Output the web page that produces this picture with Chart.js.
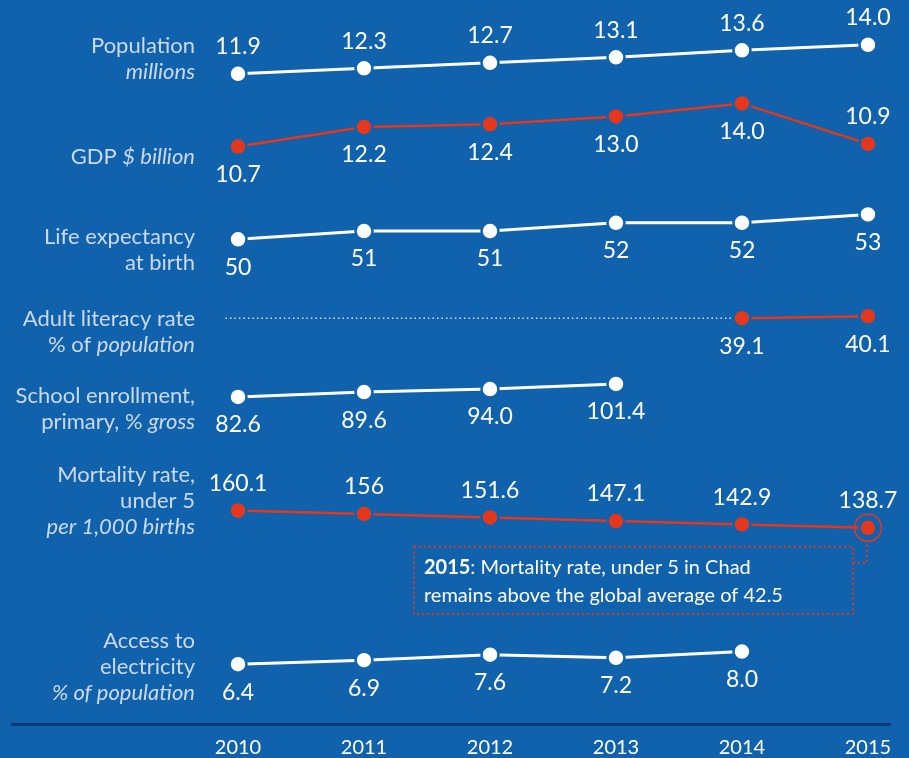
<!DOCTYPE html>
<html>
<head>
<meta charset="utf-8">
<script src="https://cdn.jsdelivr.net/npm/chart.js@4.4.0/dist/chart.umd.min.js"></script>
<style>
  html, body { margin: 0; padding: 0; background: #1062ad; }
  #wrap { width: 909px; height: 758px; position: relative; }
</style>
</head>
<body>
<div id="wrap"><canvas id="myChart" width="909" height="758"></canvas></div>
<script>
// chart values
var years = [2010, 2011, 2012, 2013, 2014, 2015];
var population = [11.9, 12.3, 12.7, 13.1, 13.6, 14.0];
var gdp = [10.7, 12.2, 12.4, 13.0, 14.0, 10.9];
var lifeExpectancy = [50, 51, 51, 52, 52, 53];
var literacy = [null, null, null, null, 39.1, 40.1];
var schoolEnrollment = [82.6, 89.6, 94.0, 101.4, null, null];
var mortality = [160.1, 156, 151.6, 147.1, 142.9, 138.7];
var electricity = [6.4, 6.9, 7.6, 7.2, 8.0, null];

var BG = '#1062ad';
var RED = '#e4371c';
var WHITE = '#ffffff';
var LABEL = '#cbd9eb';
var FONT = 'Lato, "Open Sans", sans-serif';

// one band per indicator, top to bottom
var rows = [
  { data: population, color: WHITE, min: 10.81, max: 16.46, band: 78, fmt: 1,
    where: 'aaaaaa', labelY: 46,
    label: [[['Population', 0]], [['millions', 1]]] },
  { data: gdp, color: RED, min: 8.10, max: 15.12, band: 92, fmt: 1,
    where: 'bbbbba', labelY: 157,
    label: [[['GDP ', 0], ['$ billion', 1]]] },
  { data: lifeExpectancy, color: WHITE, min: 45.3, max: 57.1, band: 98, fmt: 0,
    where: 'bbbbbb', labelY: 237,
    label: [[['Life expectancy', 0]], [['at birth', 0]]] },
  { data: literacy, color: RED, min: 23.1, max: 59.1, band: 72, fmt: 1,
    where: 'bbbbbb', labelY: 319,
    label: [[['Adult literacy rate', 0]], [['% of ', 0], ['population', 1]]] },
  { data: schoolEnrollment, color: WHITE, min: 5.9, max: 150.6, band: 100, fmt: 1,
    where: 'bbbbbb', labelY: 396,
    label: [[['School enrollment,', 0]], [['primary, % ', 0], ['gross', 1]]] },
  { data: mortality, color: RED, min: 62.3, max: 235.6, band: 140, fmt: -1,
    where: 'aaaaaa', labelY: 475,
    label: [[['Mortality rate,', 0]], [['under 5', 0]], [['per 1,000 births', 1]]] },
  { data: electricity, color: WHITE, min: -1.16, max: 15.85, band: 135, fmt: 1,
    where: 'bbbbbb', labelY: 641,
    label: [[['Access to', 0]], [['electricity', 0]], [['% of population', 1]]] }
];

var scales = {
  x: {
    type: 'linear',
    min: 2008.206,
    max: 2015.175,
    afterBuildTicks: function (scale) {
      scale.ticks = years.map(function (y) { return { value: y }; });
    },
    grid: { display: false, drawTicks: false },
    border: { display: true, color: '#0d3878', width: 3 },
    ticks: {
      padding: 12,
      color: WHITE,
      font: { family: FONT, size: 20 },
      callback: function (v) { return String(v); }
    }
  }
};

var datasets = [];
rows.forEach(function (r, i) {
  var id = 'y' + i;
  scales[id] = {
    type: 'linear', position: 'left', stack: 'rows', stackWeight: r.band,
    weight: rows.length - i, min: r.min, max: r.max, display: false
  };
  datasets.push({
    yAxisID: id,
    data: years.map(function (y, k) { return { x: y, y: r.data[k] }; }),
    borderColor: r.color,
    borderWidth: r.color === RED ? 2.5 : 3,
    pointRadius: 8.5,
    pointBorderWidth: 2.5,
    pointBackgroundColor: r.color,
    pointBorderColor: BG,
    clip: false
  });
});

// dotted lead-in for the years without literacy data
var firstLit = literacy.findIndex(function (v) { return v !== null; });
datasets.push({
  yAxisID: 'y3',
  data: [{ x: years[0] - 0.1, y: literacy[firstLit] }, { x: years[firstLit], y: literacy[firstLit] }],
  borderColor: '#d5e0ee',
  borderWidth: 1.5,
  borderDash: [1.5, 3],
  pointRadius: 0,
  clip: false
});

function fmtValue(v, fmt) {
  if (fmt < 0) return String(v);
  return v.toFixed(fmt);
}

var labelsPlugin = {
  id: 'rowText',
  afterDatasetsDraw: function (chart) {
    var ctx = chart.ctx;
    ctx.save();

    // value labels
    ctx.fillStyle = WHITE;
    ctx.font = '23px ' + FONT;
    ctx.textAlign = 'center';
    ctx.textBaseline = 'middle';
    rows.forEach(function (r, i) {
      var meta = chart.getDatasetMeta(i);
      r.data.forEach(function (v, k) {
        if (v === null) return;
        var pt = meta.data[k];
        var dy = r.where[k] === 'a' ? -27 : 28;
        ctx.fillText(fmtValue(v, r.fmt), pt.x, pt.y + dy);
      });
    });

    // row titles, right aligned
    ctx.fillStyle = LABEL;
    ctx.textAlign = 'left';
    rows.forEach(function (r) {
      r.label.forEach(function (line, li) {
        var y = r.labelY + li * 26;
        var w = 0;
        line.forEach(function (seg) {
          ctx.font = (seg[1] ? 'italic ' : '') + '22px ' + FONT;
          w += ctx.measureText(seg[0]).width;
        });
        var x = 195 - w;
        line.forEach(function (seg) {
          ctx.font = (seg[1] ? 'italic ' : '') + '22px ' + FONT;
          ctx.fillText(seg[0], x, y);
          x += ctx.measureText(seg[0]).width;
        });
      });
    });

    // 2015 mortality call-out
    var mMeta = chart.getDatasetMeta(5);
    var p = mMeta.data[mortality.length - 1];
    ctx.strokeStyle = RED;
    ctx.lineWidth = 1.5;
    ctx.beginPath();
    ctx.arc(p.x, p.y, 13.5, 0, Math.PI * 2);
    ctx.stroke();

    var right = p.x - 15, left = right - 439, top = p.y + 19, bottom = top + 67;
    ctx.lineWidth = 2;
    ctx.setLineDash([2, 3]);
    ctx.strokeRect(left, top, right - left, bottom - top);
    ctx.beginPath();
    ctx.moveTo(right, top + 16);
    ctx.lineTo(p.x - 1, top + 16);
    ctx.lineTo(p.x - 1, p.y + 14);
    ctx.stroke();
    ctx.setLineDash([]);

    ctx.fillStyle = WHITE;
    ctx.textBaseline = 'middle';
    ctx.font = 'bold 20px ' + FONT;
    var tx = left + 10;
    ctx.fillText('2015', tx, top + 21);
    tx += ctx.measureText('2015').width;
    ctx.font = '20px ' + FONT;
    ctx.fillText(': Mortality rate, under 5 in Chad', tx, top + 21);
    ctx.fillText('remains above the global average of 42.5', left + 10, top + 49);

    ctx.restore();
  }
};

var ctx = document.getElementById('myChart').getContext('2d');
var chart = new Chart(ctx, {
  type: 'line',
  data: { datasets: datasets },
  options: {
    responsive: false,
    animation: false,
    layout: { padding: { left: 12, right: 19, top: 10, bottom: -14 } },
    plugins: { legend: { display: false }, tooltip: { enabled: false } },
    scales: scales
  },
  plugins: [labelsPlugin]
});
</script>
</body>
</html>
